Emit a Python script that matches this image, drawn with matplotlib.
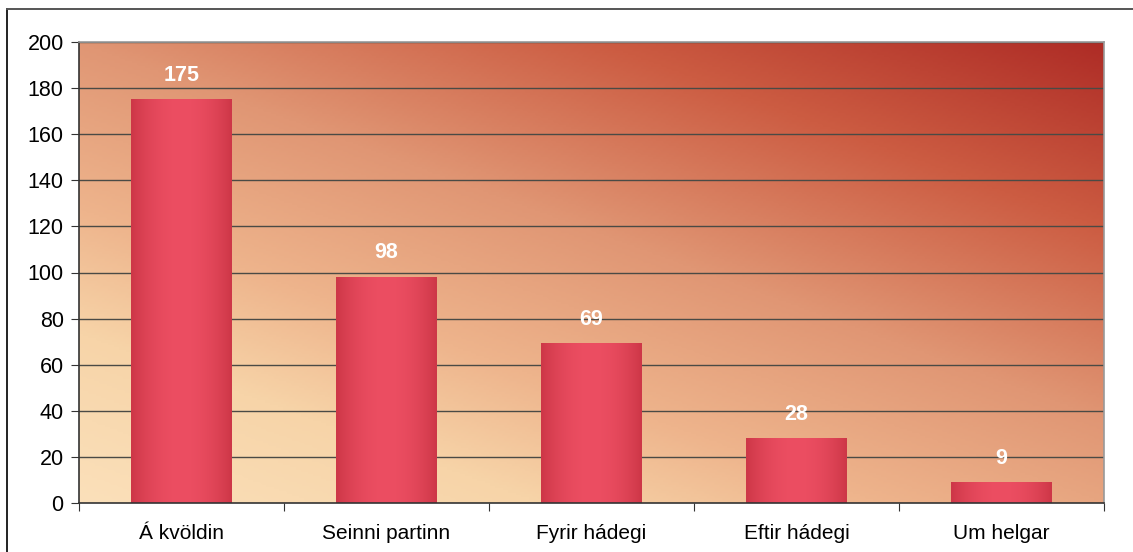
import numpy as np
import matplotlib
matplotlib.use("Agg")
import matplotlib.pyplot as plt
from matplotlib.lines import Line2D
from matplotlib.colors import LinearSegmentedColormap

categories = ["Á kvöldin", "Seinni partinn", "Fyrir hádegi", "Eftir hádegi", "Um helgar"]
values = [175, 98, 69, 28, 9]
yticks = [0, 20, 40, 60, 80, 100, 120, 140, 160, 180, 200]

plt.rcParams['font.family'] = ['Liberation Sans', 'DejaVu Sans']

W, H = 1133, 552
fig = plt.figure(figsize=(W/100, H/100), dpi=100)
fig.patch.set_facecolor('white')

# outer border (left and top only visible)
fig.add_artist(Line2D([7/W, 7/W], [0, 1 - 9/H], transform=fig.transFigure,
                      color='#222222', linewidth=1.4))
fig.add_artist(Line2D([7/W, 1], [1 - 9/H, 1 - 9/H], transform=fig.transFigure,
                      color='#555555', linewidth=1.4))

left, right, top, bottom = 79, 1104, 42, 503
ax = fig.add_axes([left/W, 1 - bottom/H, (right-left)/W, (bottom-top)/H])

n = len(categories)

# background gradient (diagonal, light bottom-left to dark red top-right)
bg_cmap = LinearSegmentedColormap.from_list('bg', [
    (0.00, '#FBE0BA'),
    (0.20, '#F7D4A8'),
    (0.35, '#EEB48C'),
    (0.55, '#E09674'),
    (0.78, '#CC5C42'),
    (1.00, '#AE2C26'),
])
ny, nx = 200, 400
u = np.linspace(0, 1, nx)[None, :]
v = np.linspace(0, 1, ny)[:, None]
t = 0.45 * u + 0.55 * v
ax.imshow(bg_cmap(t), extent=[0, n, 0, 200], origin='lower', aspect='auto', zorder=0)

# gridlines
for tk in yticks[1:]:
    ax.axhline(tk, color='#4a4a45', linewidth=1.0, zorder=1)

# bars with cylinder shading
bw = 0.49
xs = np.arange(n) + 0.5
s = np.linspace(-1, 1, 100)
shade = 1 - 0.5 * np.abs(s) ** 2.0
base_lo = np.array([175, 32, 45]) / 255
base_hi = np.array([236, 78, 98]) / 255
bar_img = base_lo[None, :] + (base_hi - base_lo)[None, :] * shade[:, None]
bar_img = bar_img[None, :, :]
for x, val in zip(xs, values):
    ax.imshow(bar_img, extent=[x - bw/2, x + bw/2, 0, val], origin='lower', aspect='auto', zorder=2)
    ax.text(x, val + 10.5, str(val), ha='center', va='center', color='white',
            fontsize=15.5, fontweight='bold', zorder=3)

ax.set_xlim(0, n)
ax.set_ylim(0, 200)

ax.set_yticks(yticks)
ax.set_yticklabels([str(tk) for tk in yticks], fontsize=15.5)
ax.set_xticks(np.arange(n + 1))
ax.set_xticklabels([])
ax.set_xticks(xs, minor=True)
ax.set_xticklabels(categories, minor=True, fontsize=15)
ax.tick_params(axis='x', which='minor', length=0, pad=15)
ax.tick_params(axis='x', which='major', length=6, direction='out', color='#333333')
ax.tick_params(axis='y', length=6, direction='out', color='#333333', pad=5)

for side in ['top', 'right']:
    ax.spines[side].set_color('#999999')
    ax.spines[side].set_linewidth(1.2)
for side in ['left', 'bottom']:
    ax.spines[side].set_color('#333333')
    ax.spines[side].set_linewidth(1.2)

fig.savefig('out.png', dpi=100, facecolor='white')
